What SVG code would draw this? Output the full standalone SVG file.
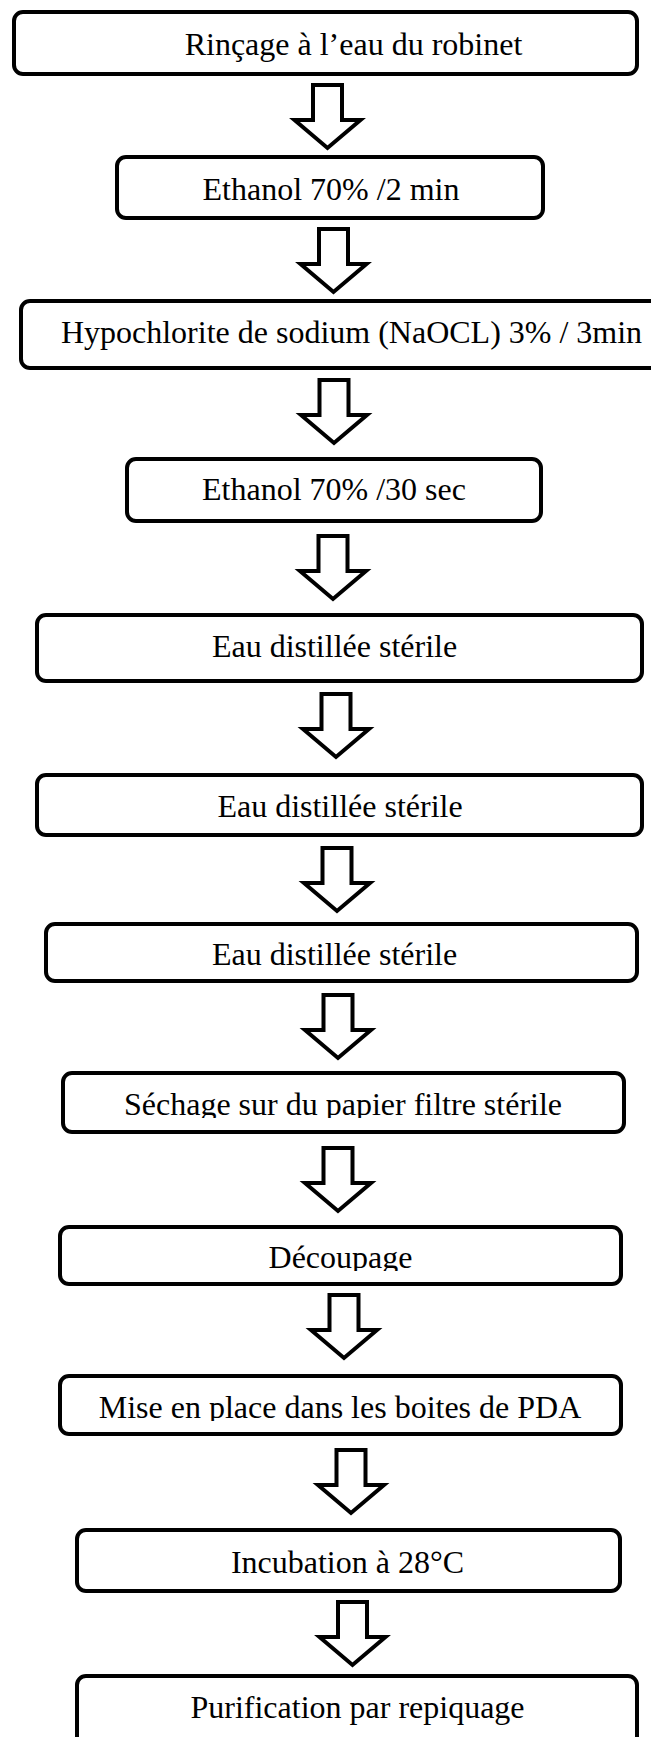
<svg xmlns="http://www.w3.org/2000/svg" xmlns:xlink="http://www.w3.org/1999/xlink" width="651" height="1737" viewBox="0 0 651 1737">
<style>
.box{fill:#fff;stroke:#000;stroke-width:4}
.lbl{font-family:"Liberation Serif","Times New Roman",serif;font-size:32px;fill:#000;text-anchor:middle}
.arr{fill:#fff;stroke:#000;stroke-width:4;stroke-linejoin:miter}
</style>
<defs>
<path id="arrow" class="arr" d="M-14.5,2 H14.5 V37 H33 L0,65 L-33,37 H-14.5 Z"/>
<clipPath id="c8"><rect x="0" y="1060" width="651" height="58"/></clipPath>
<clipPath id="c9"><rect x="0" y="1220" width="651" height="51"/></clipPath>
<clipPath id="c10"><rect x="0" y="1370" width="651" height="51"/></clipPath>
</defs>
<rect width="651" height="1737" fill="#fff"/>
<g id="connectors">
<use xlink:href="#arrow" href="#arrow" x="327.5" y="83"/>
<use xlink:href="#arrow" href="#arrow" x="333.5" y="227"/>
<use xlink:href="#arrow" href="#arrow" x="334" y="378"/>
<use xlink:href="#arrow" href="#arrow" x="333" y="534"/>
<use xlink:href="#arrow" href="#arrow" x="336" y="692"/>
<use xlink:href="#arrow" href="#arrow" x="337" y="846"/>
<use xlink:href="#arrow" href="#arrow" x="338" y="993"/>
<use xlink:href="#arrow" href="#arrow" x="338" y="1146"/>
<use xlink:href="#arrow" href="#arrow" x="344" y="1293"/>
<use xlink:href="#arrow" href="#arrow" x="351" y="1448"/>
<use xlink:href="#arrow" href="#arrow" x="352.5" y="1600"/>
</g>
<g id="n1"><rect class="box" x="14" y="12" width="623" height="62" rx="9"/><text class="lbl" x="353.5" y="55">Rinçage à l’eau du robinet</text></g>
<g id="n2"><rect class="box" x="117" y="157" width="426" height="61" rx="9"/><text class="lbl" x="331" y="200">Ethanol 70% /2 min</text></g>
<g id="n3"><rect class="box" x="21" y="301" width="645" height="67" rx="9"/><text class="lbl" x="351.5" y="343">Hypochlorite de sodium (NaOCL) 3% / 3min</text></g>
<g id="n4"><rect class="box" x="127" y="459" width="414" height="62" rx="9"/><text class="lbl" x="334" y="500">Ethanol 70% /30 sec</text></g>
<g id="n5"><rect class="box" x="37" y="615" width="605" height="66" rx="9"/><text class="lbl" x="334.5" y="657">Eau distillée stérile</text></g>
<g id="n6"><rect class="box" x="37" y="775" width="605" height="60" rx="9"/><text class="lbl" x="340" y="817">Eau distillée stérile</text></g>
<g id="n7"><rect class="box" x="46" y="924" width="591" height="57" rx="9"/><text class="lbl" x="334.5" y="965">Eau distillée stérile</text></g>
<g id="n8"><rect class="box" x="63" y="1073" width="561" height="59" rx="9"/><text class="lbl" x="343" y="1115" clip-path="url(#c8)">Séchage sur du papier filtre stérile</text></g>
<g id="n9"><rect class="box" x="60" y="1227" width="561" height="57" rx="9"/><text class="lbl" x="340.5" y="1268" clip-path="url(#c9)">Découpage</text></g>
<g id="n10"><rect class="box" x="60" y="1376" width="561" height="58" rx="9"/><text class="lbl" x="340" y="1418" clip-path="url(#c10)">Mise en place dans les boites de PDA</text></g>
<g id="n11"><rect class="box" x="77" y="1530" width="543" height="61" rx="9"/><text class="lbl" x="347.5" y="1573">Incubation à 28°C</text></g>
<g id="n12"><rect class="box" x="77" y="1676" width="560" height="80" rx="9"/><text class="lbl" x="357.5" y="1718">Purification par repiquage</text></g>
</svg>
